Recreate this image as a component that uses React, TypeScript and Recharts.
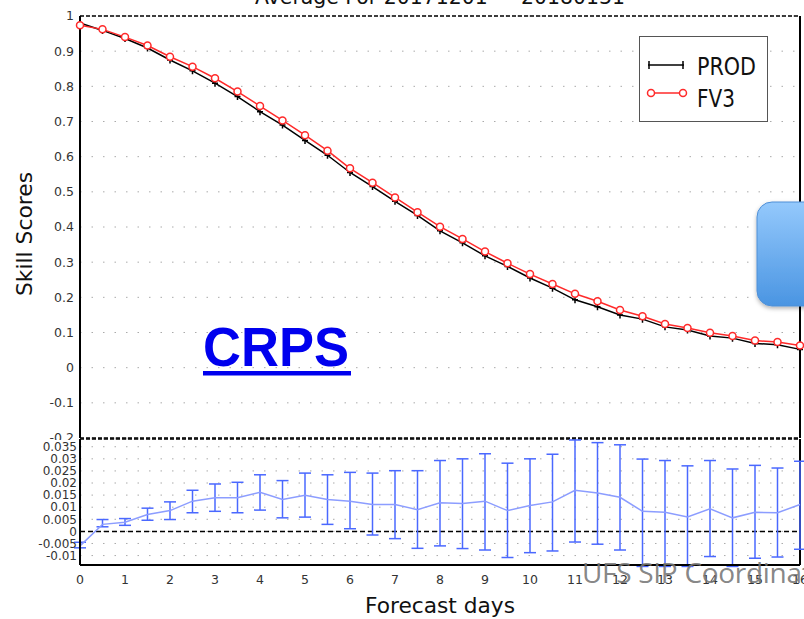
import { ComposedChart, Line, XAxis, YAxis, CartesianGrid, ReferenceLine, ErrorBar, Legend } from "recharts";

const days = [0, 0.5, 1, 1.5, 2, 2.5, 3, 3.5, 4, 4.5, 5, 5.5, 6, 6.5, 7, 7.5, 8, 8.5, 9, 9.5, 10, 10.5, 11, 11.5, 12, 12.5, 13, 13.5, 14, 14.5, 15, 15.5, 16];

const prodScores = [0.98, 0.959, 0.936, 0.909, 0.875, 0.844, 0.809, 0.771, 0.728, 0.69, 0.646, 0.604, 0.555, 0.515, 0.473, 0.433, 0.389, 0.355, 0.318, 0.288, 0.255, 0.226, 0.193, 0.173, 0.15, 0.138, 0.116, 0.107, 0.09, 0.084, 0.069, 0.065, 0.052];

const fv3Scores = [0.974, 0.962, 0.94, 0.916, 0.884, 0.856, 0.823, 0.785, 0.744, 0.703, 0.661, 0.617, 0.567, 0.526, 0.484, 0.442, 0.401, 0.366, 0.33, 0.297, 0.266, 0.238, 0.21, 0.189, 0.164, 0.146, 0.124, 0.113, 0.099, 0.09, 0.077, 0.073, 0.063];

// FV3 - PROD difference with its confidence range
const diffScores = [-0.006, 0.0029, 0.0038, 0.007, 0.0086, 0.0125, 0.0139, 0.0139, 0.0162, 0.0132, 0.0149, 0.0132, 0.0125, 0.0111, 0.0111, 0.009, 0.0118, 0.0115, 0.0125, 0.0086, 0.0107, 0.0122, 0.017, 0.0159, 0.0141, 0.0083, 0.0079, 0.006, 0.0093, 0.0056, 0.0079, 0.0077, 0.0111];
const diffHigh = [-0.0045, 0.0049, 0.0053, 0.0096, 0.0122, 0.017, 0.0196, 0.0203, 0.0234, 0.021, 0.0241, 0.0234, 0.0244, 0.0241, 0.0251, 0.0251, 0.0293, 0.03, 0.0321, 0.0282, 0.03, 0.0319, 0.0378, 0.0367, 0.0358, 0.0299, 0.0293, 0.0271, 0.0293, 0.0258, 0.0273, 0.0262, 0.029];
const diffLow = [-0.0068, 0.0019, 0.0025, 0.0046, 0.0049, 0.0077, 0.0083, 0.0077, 0.0088, 0.0056, 0.0059, 0.0029, 0.0011, -0.0015, -0.003, -0.007, -0.006, -0.0071, -0.0077, -0.0108, -0.0088, -0.0081, -0.0044, -0.0053, -0.0077, -0.0145, -0.0145, -0.0145, -0.0104, -0.0145, -0.0111, -0.0106, -0.0074];

const seriesOrder = ["PROD", "FV3"];
const skillTicks = [-0.2, -0.1, 0, 0.1, 0.2, 0.3, 0.4, 0.5, 0.6, 0.7, 0.8, 0.9, 1];
const diffTicks = [-0.01, -0.005, 0, 0.005, 0.01, 0.015, 0.02, 0.025, 0.03, 0.035];
const dayTicks = [0, 1, 2, 3, 4, 5, 6, 7, 8, 9, 10, 11, 12, 13, 14, 15, 16];

const data = days.map((day, i) => ({
  day,
  prod: prodScores[i],
  fv3: fv3Scores[i],
  diff: diffScores[i],
  err: [diffScores[i] - diffLow[i], diffHigh[i] - diffScores[i]],
}));

const tickFont = { fontFamily: "DejaVu Sans", fontSize: 12.5, fill: "#333" };
const frameDash = "4 2";

const PlusDot = (props: any) => {
  const { cx, cy, index } = props;
  if (cx == null || cy == null) return null;
  return (
    <path
      key={`p-${index}`}
      d={`M${cx - 3},${cy} H${cx + 3} M${cx},${cy - 3.5} V${cy + 3.5}`}
      stroke="#000"
      strokeWidth={1.5}
      fill="none"
    />
  );
};

const LegendBox = ({ payload }: any) => {
  const items = seriesOrder
    .map((name) => (payload || []).find((p: any) => p.value === name))
    .filter(Boolean);
  return (
    <svg width={130} height={88}>
      <rect x={0.5} y={0.5} width={128} height={85} fill="#fff" stroke="#555" strokeWidth={1} />
      {items.map((item: any, i: number) => {
        const y = i === 0 ? 29 : 57;
        const isProd = item.value === "PROD";
        return (
          <g key={item.value}>
            <line x1={9} x2={45} y1={y} y2={y} stroke={item.color} strokeWidth={1.5} />
            {isProd ? (
              <path d={`M10,${y - 4} V${y + 4} M44,${y - 4} V${y + 4}`} stroke={item.color} strokeWidth={1.5} />
            ) : (
              <>
                <circle cx={12} cy={y} r={3.5} fill="#fff" stroke={item.color} strokeWidth={1.5} />
                <circle cx={44} cy={y} r={3.5} fill="#fff" stroke={item.color} strokeWidth={1.5} />
              </>
            )}
            <text
              x={58}
              y={i === 0 ? 39 : 71}
              fontFamily="DejaVu Sans"
              fontSize={24}
              fill="#111"
              textLength={isProd ? 59 : 38}
              lengthAdjust="spacingAndGlyphs"
            >
              {item.value}
            </text>
          </g>
        );
      })}
    </svg>
  );
};

export default function App() {
  return (
    <div style={{ position: "absolute", left: 0, top: 0, width: 804, height: 619, background: "#fff", overflow: "hidden" }}>
      <div style={{ position: "absolute", left: 0, top: 0 }}>
        <ComposedChart width={804} height={440} data={data} margin={{ top: 16, right: 4, bottom: 2, left: 18 }}>
          <CartesianGrid horizontal vertical={false} stroke="#aaa" strokeDasharray="1.5 10" />
          <XAxis dataKey="day" type="number" domain={[0, 16]} ticks={dayTicks} hide />
          <YAxis
            type="number"
            domain={[-0.2, 1]}
            ticks={skillTicks}
            interval={0}
            allowDataOverflow
            width={62}
            tick={tickFont}
            tickLine={false}
            tickSize={2}
            tickMargin={4}
            axisLine={{ stroke: "#000", strokeWidth: 2 }}
            tickFormatter={(v: number) => String(v)}
          />
          <ReferenceLine y={1} stroke="#000" strokeWidth={1.5} strokeDasharray={frameDash} />
          <ReferenceLine y={-0.2} stroke="#000" strokeWidth={1.5} strokeDasharray={frameDash} />
          <ReferenceLine x={16} stroke="#000" strokeWidth={2} />
          <Line
            dataKey="prod"
            name="PROD"
            stroke="#000"
            strokeWidth={1.5}
            dot={PlusDot}
            isAnimationActive={false}
          />
          <Line
            dataKey="fv3"
            name="FV3"
            stroke="#ff2a2a"
            strokeWidth={1.5}
            dot={{ r: 3.5, fill: "#fff", stroke: "#ff2a2a", strokeWidth: 1.5 }}
            isAnimationActive={false}
          />
          <Legend
            layout="horizontal"
            align="center"
            verticalAlign="middle"
            content={LegendBox}
            wrapperStyle={{ position: "absolute", left: 639, top: 36, width: 130, height: 88 }}
          />
        </ComposedChart>
      </div>
      <div style={{ position: "absolute", left: 0, top: 430 }}>
        <ComposedChart width={804} height={189} data={data} margin={{ top: 9, right: 4, bottom: 24, left: 18 }}>
          <CartesianGrid horizontal vertical={false} stroke="#aaa" strokeDasharray="1.5 10" />
          <XAxis
            dataKey="day"
            type="number"
            domain={[0, 16]}
            ticks={dayTicks}
            interval={0}
            height={30}
            tick={tickFont}
            tickLine={false}
            tickSize={6}
            tickMargin={4}
            axisLine={{ stroke: "#000", strokeWidth: 2 }}
          />
          <YAxis
            type="number"
            domain={[-0.0139, 0.0382]}
            ticks={diffTicks}
            interval={0}
            allowDataOverflow
            width={62}
            tick={{ ...tickFont, fontSize: 12 }}
            tickLine={false}
            tickSize={1}
            tickMargin={2}
            axisLine={{ stroke: "#000", strokeWidth: 2 }}
            tickFormatter={(v: number) => String(v)}
          />
          <ReferenceLine y={0.0382} stroke="#000" strokeWidth={1.5} strokeDasharray={frameDash} />
          <ReferenceLine y={0} stroke="#000" strokeWidth={1.5} strokeDasharray="5 3" />
          <ReferenceLine x={16} stroke="#000" strokeWidth={2} />
          <Line dataKey="diff" stroke="#8c9dff" strokeWidth={1.5} dot={false} isAnimationActive={false}>
            <ErrorBar dataKey="err" direction="y" width={6} stroke="#4a68ff" strokeWidth={1.5} />
          </Line>
        </ComposedChart>
      </div>
      <svg width={804} height={619} style={{ position: "absolute", left: 0, top: 0, pointerEvents: "none" }}>
        <defs>
          <linearGradient id="boxFill" x1="0" y1="0" x2="0" y2="1">
            <stop offset="0" stopColor="#94c9fc" />
            <stop offset="1" stopColor="#4a95e2" />
          </linearGradient>
          <filter id="boxShadow" x="-20%" y="-20%" width="140%" height="140%">
            <feDropShadow dx="0" dy="2" stdDeviation="2" floodColor="#000" floodOpacity="0.3" />
          </filter>
        </defs>
        <text x={255} y={4} fontFamily="DejaVu Sans" fontSize={22} fill="#111" textLength={370} lengthAdjust="spacingAndGlyphs">
          Average For 20171201 — 20180131
        </text>
        <text
          transform="translate(32,234) rotate(-90)"
          textAnchor="middle"
          fontFamily="DejaVu Sans"
          fontSize={21}
          fill="#111"
          textLength={124}
          lengthAdjust="spacingAndGlyphs"
        >
          Skill Scores
        </text>
        <text x={440} y={613} textAnchor="middle" fontFamily="DejaVu Sans" fontSize={21} fill="#111" textLength={150} lengthAdjust="spacingAndGlyphs">
          Forecast days
        </text>
        <text x={203} y={366} fontFamily="Liberation Sans" fontWeight="bold" fontSize={55} fill="#0000ee" textLength={146} lengthAdjust="spacingAndGlyphs">
          CRPS
        </text>
        <rect x={203} y={371} width={148} height={4.5} fill="#0000ee" />
        <rect x={757} y={202} width={70} height={104} rx={15} fill="url(#boxFill)" stroke="#4f8fd6" strokeWidth={1} filter="url(#boxShadow)" />
        <text x={582} y={583} fontFamily="Open Sans" fontSize={28} fill="#777" fillOpacity={0.9} letterSpacing={-0.3}>
          UFS SIP Coordination
        </text>
      </svg>
    </div>
  );
}
